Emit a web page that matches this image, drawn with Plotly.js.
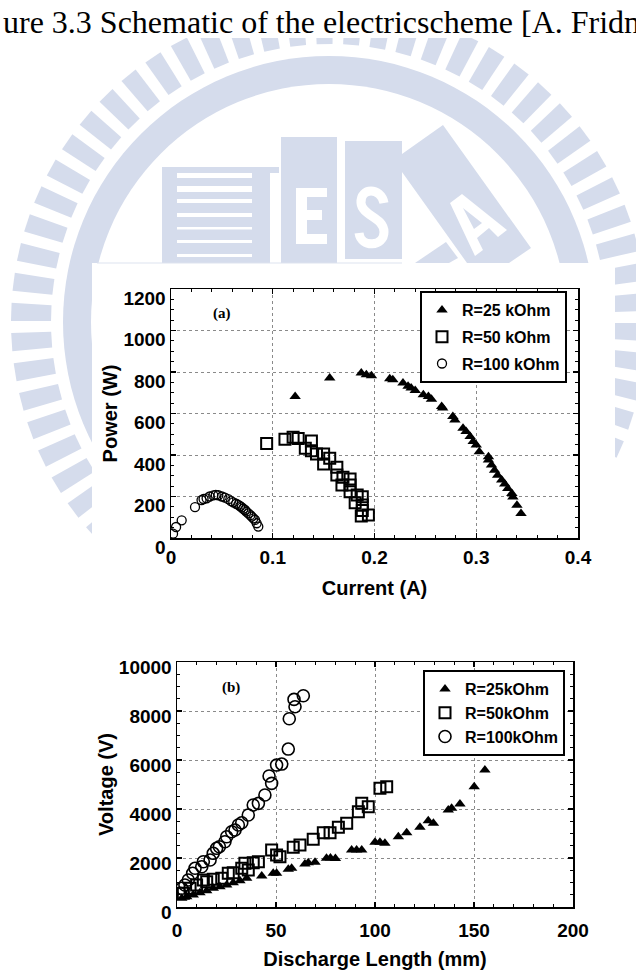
<!DOCTYPE html>
<html><head><meta charset="utf-8">
<script src="https://cdn.plot.ly/plotly-3.0.1.min.js"></script>
<style>html,body{margin:0;padding:0;background:#fff;} #chart{width:636px;height:971px;}</style>
</head><body><div id="chart"></div>
<script>
// ---------- DATA ----------
// (a) Power vs Current
const seriesNamesA = ['R=25 kOhm', 'R=50 kOhm', 'R=100 kOhm'];
const currentA_25 = [0.122,0.156,0.187,0.192,0.197,0.215,0.218,0.228,0.233,0.236,0.240,0.248,0.253,0.256,0.266,0.267,0.277,0.279,0.287,0.290,0.294,0.297,0.300,0.303,0.312,0.312,0.315,0.318,0.321,0.325,0.328,0.331,0.335,0.336,0.340,0.344];
const powerW_25   = [682,771,795,787,782,768,763,747,731,723,711,690,682,669,634,626,585,569,529,513,489,465,448,416,392,376,352,327,303,279,260,239,215,198,158,118];
const currentA_50 = [0.094,0.112,0.120,0.125,0.138,0.132,0.138,0.143,0.150,0.156,0.150,0.163,0.163,0.169,0.176,0.168,0.176,0.176,0.183,0.181,0.188,0.188,0.188,0.187,0.194];
const powerW_50   = [456,476,485,480,468,432,421,405,405,384,357,341,304,293,284,255,255,223,207,170,199,159,132,106,111];
const currentA_100 = [0.002,0.005,0.0105,0.0236,0.030,0.032,0.035,0.038,0.0416,0.044,0.0465,0.050,0.053,0.0563,0.059,0.0612,0.064,0.0661,0.068,0.0695,0.071,0.0727,0.074,0.076,0.078,0.0793,0.081,0.0826,0.0842,0.0858];
const powerW_100   = [21,53,85,149,183,188,191,200,205,208,206,200,195,187,178,172,165,160,153,148,141,135,127,119,110,103,95,87,71,55];
const currentTicks = [0,0.1,0.2,0.3,0.4];
const currentTickText = ['0','0.1','0.2','0.3','0.4'];

// (b) Voltage vs Discharge length
const seriesNamesB = ['R=25kOhm', 'R=50kOhm', 'R=100kOhm'];
const lengthMM_25 = [2.4,4.9,8.2,11.6,15.0,18.3,21.7,25.1,28.4,31.8,35.2,42.8,48.6,50.3,56.2,57.9,64.6,66.3,69.7,75.5,77.5,80.0,88.2,90.7,93.3,100.0,102.5,105.0,111.8,116.0,122.7,126.9,129.5,137.0,138.7,142.9,150.1,155.5];
const voltV_25    = [355,420,490,583,665,763,828,898,991,1073,1171,1265,1375,1375,1538,1579,1754,1808,1824,1987,2000,1980,2326,2326,2326,2640,2640,2600,2868,3032,3252,3521,3415,3958,4026,4202,4908,5590];
const lengthMM_50 = [3.2,6.6,9.9,13.3,15.0,18.3,22.6,25.9,28.4,32.7,36.0,34.3,38.5,41.1,47.8,50.3,52.0,58.7,62.1,68.8,73.9,77.3,81.5,85.7,91.6,93.3,96.6,102.5,105.9];
const voltV_50    = [559,763,898,1102,1033,1129,1170,1375,1400,1579,1510,1783,1808,1848,2326,2122,2052,2436,2530,2762,3032,3032,3252,3415,3888,4231,4092,4843,4908];
const lengthMM_100 = [1.5,2.4,4.0,5.7,7.9,9.1,12.5,13.3,16.7,18.3,20.0,21.4,24.2,25.1,27.6,29.3,31.0,32.7,36.0,38.5,41.1,44.4,46.5,47.8,50.3,52.9,56.2,56.7,59.6,59.1,63.8];
const voltV_100    = [559,763,898,1102,1375,1579,1644,1848,1918,2191,2395,2460,2664,2868,3072,3142,3346,3439,3754,4162,4231,4570,5345,5046,5793,5834,6446,7683,8173,8474,8621];

// ---------- LAYOUT HELPERS ----------
const W = 636, H = 971;
const FONT = 'Liberation Sans, Arial, Helvetica, sans-serif';
const WM = '#d5dcec';
function pp(x, y) { return (x / W).toFixed(5) + ',' + (1 - y / H).toFixed(5); }
function poly(pts) { return 'M' + pts.map(p => pp(p[0], p[1])).join('L') + 'Z'; }
const shapes = [];
function addPoly(pts, color) { shapes.push({type:'path', xref:'paper', yref:'paper', path:poly(pts), fillcolor:color, line:{width:0}, layer:'below'}); }
function addRect(x0, y0, x1, y1, color) { addPoly([[x0,y0],[x1,y0],[x1,y1],[x0,y1]], color); }
function addCircle(cx, cy, r, color) {
  shapes.push({type:'circle', xref:'paper', yref:'paper', x0:(cx-r)/W, x1:(cx+r)/W, y0:1-(cy+r)/H, y1:1-(cy-r)/H, fillcolor:color, line:{width:0}, layer:'below'});
}

// watermark: ring of radial bars
const wcx = 329, wcy = 322;
const NB = 66;
for (let k = 0; k < NB; k++) {
  const a0 = (k * 360 / NB + 2) * Math.PI / 180, a1 = ((k + 0.6) * 360 / NB + 2) * Math.PI / 180;
  const r0 = 278, r1 = 318;
  addPoly([[wcx + r0*Math.cos(a0), wcy - r0*Math.sin(a0)], [wcx + r1*Math.cos(a0), wcy - r1*Math.sin(a0)],
           [wcx + r1*Math.cos(a1), wcy - r1*Math.sin(a1)], [wcx + r0*Math.cos(a1), wcy - r0*Math.sin(a1)]], WM);
}
addCircle(wcx, wcy, 266, WM);
addCircle(wcx, wcy, 238, '#ffffff');
// T block with stripes
addRect(162, 167, 279, 173, WM);
addRect(162, 173, 270, 263, WM);
[[173,178],[186,192],[199,203],[213,217],[227,229.5],[240,243],[254,257]].forEach(s => addRect(177, s[0], 252, s[1], '#ffffff'));
// E block
addRect(281, 137, 337, 263, WM);
addRect(296, 188, 307, 244, '#ffffff');
addRect(296, 188, 327, 197, '#ffffff');
addRect(296, 210, 322, 220, '#ffffff');
addRect(296, 234, 327, 244, '#ffffff');
// S block
addRect(345, 141, 402, 259, WM);
shapes.push({type:'path', xref:'paper', yref:'paper', layer:'below', line:{color:'#ffffff', width:9},
  path:'M' + pp(384,203) + 'C' + pp(381,187) + ' ' + pp(360,187) + ' ' + pp(361,203) + 'C' + pp(362,216) + ' ' + pp(384,217) + ' ' + pp(384,232) +
       'C' + pp(384,247) + ' ' + pp(361,248) + ' ' + pp(359,233)});
// A block
addPoly([[402,154],[443,125],[531,248],[509,263],[467,263],[402,172]], WM);
addPoly([[450,203],[462,194],[507,230],[498,237],[489,228],[477,238],[483,250],[475,256]], '#ffffff');
addPoly([[463,208],[482,223],[474,229]], WM);
addPoly([[415,263],[446,242],[458,258],[449,263]], WM);
// white areas (caption strip and pasted figure)
addRect(0, 0, 636, 38, '#ffffff');
addRect(92, 263, 615, 971, '#ffffff');
shapes.push({type:'line', xref:'paper', yref:'paper', layer:'below', x0:97/W, x1:402/W, y0:1-263/H, y1:1-263/H, line:{color:'#dde3ef', width:1}});

function axisBase() {
  return {showline:true, linecolor:'#000', linewidth:1.5, mirror:'allticks', ticks:'inside', ticklen:5, tickwidth:1.2, tickcolor:'#000',
    showgrid:true, gridcolor:'#8a8a8a', griddash:'dot', gridwidth:1, zeroline:false, fixedrange:true,
    tickfont:{family:FONT, size:19, color:'#000', weight:'bold'}};
}
function minor(dt) { return {dtick:dt, ticks:'inside', ticklen:3, tickwidth:1, tickcolor:'#000', showgrid:false}; }
const titleFont = {family:FONT, size:20, color:'#000', weight:'bold'};

const layout = {
  width:W, height:H, margin:{l:0, r:0, t:0, b:0}, paper_bgcolor:'#ffffff', plot_bgcolor:'rgba(0,0,0,0)',
  showlegend:true,
  xaxis: Object.assign(axisBase(), {domain:[171/W, 578/W], range:[0,0.4], anchor:'y', tickvals:currentTicks, ticktext:currentTickText,
    minor:minor(0.02), ticklabelstandoff:2, title:{text:'Current (A)', font:titleFont, standoff:13}}),
  yaxis: Object.assign(axisBase(), {domain:[1-538/H, 1-289/H], range:[0,1200], anchor:'x', dtick:200, tick0:0, tickformat:'d',
    minor:minor(50), ticklabelshift:9, title:{text:'Power (W)', font:titleFont, standoff:0}}),
  xaxis2: Object.assign(axisBase(), {domain:[177/W, 573/W], range:[0,200], anchor:'y2', dtick:50, tick0:0, tickformat:'d',
    minor:minor(10), ticklabelstandoff:6, title:{text:'Discharge Length (mm)', font:titleFont, standoff:11}}),
  yaxis2: Object.assign(axisBase(), {domain:[1-907/H, 1-662/H], range:[0,10000], anchor:'x2', dtick:2000, tick0:0, tickformat:'d',
    minor:minor(500), ticklabelshift:5, title:{text:'Voltage (V)', font:titleFont, standoff:0}}),
  legend: {x:420/W, y:1-291/H, xanchor:'left', yanchor:'top', bgcolor:'#ffffff', bordercolor:'#000', borderwidth:2,
    font:{family:FONT, size:16, color:'#000', weight:'bold'}, tracegroupgap:3, itemwidth:30},
  legend2: {x:423/W, y:1-670/H, xanchor:'left', yanchor:'top', bgcolor:'#ffffff', bordercolor:'#000', borderwidth:2,
    font:{family:FONT, size:16, color:'#000', weight:'bold'}, tracegroupgap:0, itemwidth:30},
  shapes: shapes,
  annotations: [
    {text:'ure 3.3 Schematic of the electricscheme [A. Fridn', xref:'paper', yref:'paper', x:1/W, y:1-22/H, xanchor:'left', yanchor:'middle',
     showarrow:false, font:{family:'Liberation Serif, Times New Roman, serif', size:32, color:'#000'}},
    {text:'(a)', xref:'paper', yref:'paper', x:222/W, y:1-313/H, xanchor:'center', yanchor:'middle', showarrow:false,
     font:{family:'Liberation Serif, Times New Roman, serif', size:15, color:'#000', weight:'bold'}},
    {text:'(b)', xref:'paper', yref:'paper', x:231/W, y:1-687/H, xanchor:'center', yanchor:'middle', showarrow:false,
     font:{family:'Liberation Serif, Times New Roman, serif', size:15, color:'#000', weight:'bold'}}
  ]
};

const data = [
  {type:'scatter', mode:'markers', x:currentA_25, y:powerW_25, name:seriesNamesA[0], xaxis:'x', yaxis:'y', legend:'legend', legendgroup:'a1',
   marker:{symbol:'triangle-up', size:10, color:'#000'}},
  {type:'scatter', mode:'markers', x:currentA_50, y:powerW_50, name:seriesNamesA[1], xaxis:'x', yaxis:'y', legend:'legend', legendgroup:'a2',
   marker:{symbol:'square-open', size:11, color:'#000', line:{width:2, color:'#000'}}},
  {type:'scatter', mode:'markers', x:currentA_100, y:powerW_100, name:seriesNamesA[2], xaxis:'x', yaxis:'y', legend:'legend', legendgroup:'a3',
   marker:{symbol:'circle-open', size:9, color:'#000', line:{width:1.3, color:'#000'}}},
  {type:'scatter', mode:'markers', x:lengthMM_25, y:voltV_25, name:seriesNamesB[0], xaxis:'x2', yaxis:'y2', legend:'legend2',
   marker:{symbol:'triangle-up', size:10, color:'#000'}},
  {type:'scatter', mode:'markers', x:lengthMM_50, y:voltV_50, name:seriesNamesB[1], xaxis:'x2', yaxis:'y2', legend:'legend2',
   marker:{symbol:'square-open', size:11, color:'#000', line:{width:2, color:'#000'}}},
  {type:'scatter', mode:'markers', x:lengthMM_100, y:voltV_100, name:seriesNamesB[2], xaxis:'x2', yaxis:'y2', legend:'legend2',
   marker:{symbol:'circle-open', size:12, color:'#000', line:{width:1.6, color:'#000'}}}
];

Plotly.newPlot('chart', data, layout, {staticPlot:true, displayModeBar:false});
</script>
</body></html>
